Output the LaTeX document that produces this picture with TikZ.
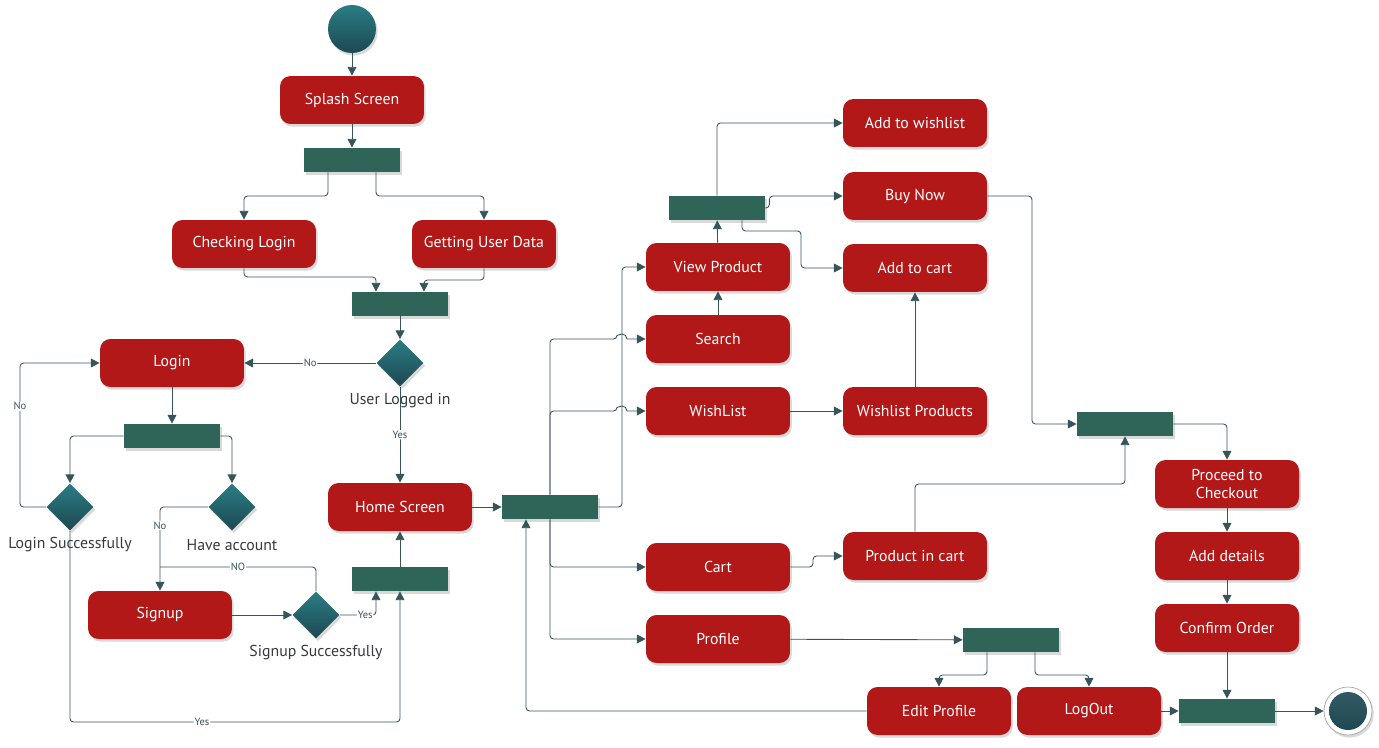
\documentclass[tikz,border=0pt]{standalone}
\usepackage{fontspec}
\setmainfont{PT Sans}
\usetikzlibrary{positioning}
\usetikzlibrary{arrows.meta,shapes.geometric,shadows}

\definecolor{actred}{HTML}{B11817}
\definecolor{barteal}{HTML}{2F6459}
\definecolor{decTop}{HTML}{2A7D84}
\definecolor{decBot}{HTML}{1D4852}
\definecolor{lineClr}{HTML}{35555A}
\definecolor{lblClr}{HTML}{333B3D}

\tikzset{
  act/.style={rectangle, rounded corners=6pt, fill=actred, text=white,
    minimum width=2.88cm, minimum height=0.96cm, align=center,
    font=\fontsize{9}{10.5}\selectfont,
    drop shadow={opacity=0.3, shadow xshift=1pt, shadow yshift=-1.5pt}},
  bar/.style={rectangle, fill=barteal, minimum width=1.92cm, minimum height=0.48cm,
    inner sep=0pt, drop shadow={opacity=0.3, shadow xshift=1pt, shadow yshift=-1.5pt}},
  dec/.style={diamond, top color=decTop, bottom color=decBot, minimum width=0.94cm,
    minimum height=0.94cm, inner sep=0pt,
    drop shadow={opacity=0.3, shadow xshift=1pt, shadow yshift=-1.5pt}},
  link/.style={draw=lineClr, line width=0.5pt, rounded corners=2pt,
    -{Triangle[length=5pt,width=5pt]}},
  tag/.style={fill=white, inner sep=0.5pt, text=lineClr, font=\fontsize{6}{7}\selectfont},
  declbl/.style={text=lblClr, font=\fontsize{9}{10}\selectfont}
}

\begin{document}
\begin{tikzpicture}[x=0.02cm, y=-0.02cm]
  \useasboundingbox (0,0) rectangle (1379,747);

  % Start and login flow
  \node[circle, minimum size=0.96cm, inner sep=0pt, top color=decTop, bottom color=decBot,
    drop shadow={opacity=0.3, shadow xshift=1pt, shadow yshift=-1.5pt}] (start) at (352,29) {};
  \node[act] (splash) at (352,100) {Splash Screen};
  \node[bar] (bar1) at (352,160) {};
  \node[act] (chklogin) at (244,244) {Checking Login};
  \node[act] (getdata) at (484,244) {Getting User Data};
  \node[bar] (bar2) at (400,304) {};
  \node[dec] (logged) at (400,363) {};
  \node[act] (login) at (172,363) {Login};
  \node[bar] (bar3) at (172,436) {};
  \node[dec] (loginok) at (70,507) {};
  \node[dec] (haveacc) at (232,507) {};
  \node[act] (home) at (400,507) {Home Screen};
  \node[act] (signup) at (160,615) {Signup};
  \node[dec] (signok) at (316,615) {};
  \node[bar] (bar4) at (400,579) {};

  % Shop flow
  \node[bar] (bar5) at (550,507) {};
  \node[act] (view) at (718,267) {View Product};
  \node[act] (search) at (718,339) {Search};
  \node[act] (wishlist) at (718,411) {WishList};
  \node[act] (cart) at (718,567) {Cart};
  \node[act] (profile) at (718,639) {Profile};
  \node[bar] (bar6) at (717,208) {};
  \node[act] (wish) at (915,123) {Add to wishlist};
  \node[act] (buy) at (915,196) {Buy Now};
  \node[act] (addcart) at (915,268) {Add to cart};
  \node[act] (wishprod) at (915,411) {Wishlist Products};
  \node[act] (incart) at (915,556) {Product in cart};
  \node[bar] (bar7) at (1125,424) {};
  \node[act] (checkout) at (1227,484) {Proceed to\\Checkout};
  \node[act] (details) at (1227,556) {Add details};
  \node[act] (confirm) at (1227,628) {Confirm Order};
  \node[bar] (bar8) at (1011,640) {};
  \node[act] (editprof) at (939,711) {Edit Profile};
  \node[act] (logout) at (1089,711) {LogOut};
  \node[bar] (bar9) at (1227,711) {};
  \node[circle, minimum size=0.96cm, inner sep=0pt, draw=gray!70, fill=white,
    drop shadow={opacity=0.3, shadow xshift=1pt, shadow yshift=-1.5pt}] (finish) at (1348,711) {};
  \node[circle, minimum size=0.76cm, inner sep=0pt, top color=decBot!90!white, bottom color=decBot]
    (finishdot) at (finish) {};

  % Labels
  \node[declbl] (loggedlbl) at (400,401) {User Logged in};
  \node[declbl] (loginoklbl) at (70,545) {Login Successfully};
  \node[declbl] (haveacclbl) at (232,545) {Have account};
  \node[declbl] (signoklbl) at (316,653) {Signup Successfully};

  % Connectors
  \draw[link] (start) -- (splash);
  \draw[link] (splash) -- (bar1);
  \draw[link] ([shift={(-24,0)}]bar1.south) |- (244,196) -- (chklogin.north);
  \draw[link] ([shift={(24,0)}]bar1.south) |- (484,196) -- (getdata.north);
  \draw[link] (chklogin.south) |- (376,277) -- ([shift={(-24,0)}]bar2.north);
  \draw[link] (getdata.south) |- (424,280) -- ([shift={(24,0)}]bar2.north);
  \draw[link] (bar2) -- (logged);
  \draw[link] (logged) -- node[tag]{No} (login);
  \draw[link] (logged) -- node[tag]{Yes} (home);
  \draw[link] (login) -- (bar3);
  \draw[link] (bar3.west) -| (loginok.north);
  \draw[link] (bar3.east) -| (haveacc.north);
  \draw[link] (loginok.west) -- (20,507) |- node[tag,pos=0.35]{No} (login.west);
  \draw[link] (loginok.south) |- node[tag,pos=0.7]{Yes} (400,722) -- (bar4.south);
  \draw[link] (haveacc.west) -| node[tag,pos=0.61]{No} (signup.north);
  \draw[link] (signup) -- (signok);
  \draw[link,-] (signok.north) |- node[tag,pos=0.75]{NO} (160,567);
  \draw[link] (signok.east) -| node[tag,pos=0.35]{Yes} ([shift={(-24,0)}]bar4.south);
  \draw[link] (bar4) -- (home);
  \draw[link] (home) -- (bar5);

  \draw[link] (bar5.north) -- (550,339) -- (617,339) [sharp corners]
    arc[start angle=180, end angle=360, radius=5] -- (search.west);
  \draw[link] (bar5.north) -- (550,411) -- (617,411) [sharp corners]
    arc[start angle=180, end angle=360, radius=5] -- (wishlist.west);
  \draw[link] (bar5.east) -- (622,507) |- (view.west);
  \draw[link] (bar5.south) |- (cart.west);
  \draw[link] (bar5.south) |- (profile.west);
  \draw[link] (search) -- (view);
  \draw[link] (view) -- (bar6);
  \draw[link] (bar6.north) |- (wish.west);
  \draw[link] (bar6.east) -- ++(4,0) |- (buy.west);
  \draw[link] ([shift={(25,0)}]bar6.south) |- (801,231) |- (addcart.west);
  \draw[link] (wishlist) -- (wishprod);
  \draw[link] (wishprod) -- (addcart);
  \draw[link] (cart.east) -- (813,567) |- (incart.west);
  \draw[link] (incart.north) |- (1125,484) -- (bar7.south);
  \draw[link] (buy.east) -- (1032,196) |- (bar7.west);
  \draw[link] (bar7.east) -| (checkout.north);
  \draw[link] (checkout) -- (details);
  \draw[link] (details) -- (confirm);
  \draw[link] (confirm) -- (bar9);
  \draw[link] (profile) -- (bar8);
  \draw[link] ([shift={(-24,0)}]bar8.south) |- (939,675) -- (editprof.north);
  \draw[link] ([shift={(24,0)}]bar8.south) |- (1089,675) -- (logout.north);
  \draw[link] (editprof.west) -| ([shift={(-24,0)}]bar5.south);
  \draw[link] (logout) -- (bar9);
  \draw[link] (bar9) -- (finish);
\end{tikzpicture}
\end{document}
